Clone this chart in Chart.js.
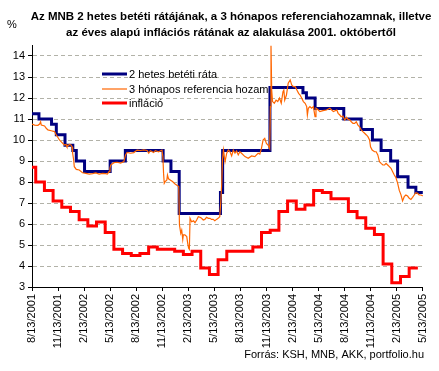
<!DOCTYPE html>
<html>
<head>
<meta charset="utf-8">
<script src="https://cdn.jsdelivr.net/npm/chart.js@4.4.1/dist/chart.umd.min.js"></script>
<style>
  html, body { margin: 0; padding: 0; background: #fff; }
</style>
</head>
<body>
<canvas id="myChart" width="439" height="371"></canvas>
<script>
// x values are months counted from 8/13/2001
const tickLabels = ["8/13/2001", "11/13/2001", "2/13/2002", "5/13/2002", "8/13/2002", "11/13/2002",
  "2/13/2003", "5/13/2003", "8/13/2003", "11/13/2003", "2/13/2004", "5/13/2004",
  "8/13/2004", "11/13/2004", "2/13/2005", "5/13/2005"];

// MNB 2-week deposit rate: month of each change and new rate
const baseRateMonths = [0, 0.8, 2.25, 2.8, 3.8, 4.7, 5.1, 6.05, 9.0, 10.75, 15.1, 16.0, 16.95,
  21.7, 21.95, 27.4, 31.2, 31.6, 32.6, 35.9, 37.9, 39.2, 40.2, 41.3, 42.1, 43.3, 44.2, 45.2, 45.4];
const baseRate = [11.25, 11.0, 10.75, 10.25, 9.75, 9.5, 9.0, 8.5, 9.0, 9.5, 9.0, 8.5, 6.5,
  7.5, 9.5, 12.5, 12.25, 12.0, 11.5, 11.0, 10.5, 10.0, 9.5, 9.0, 8.25, 7.75, 7.5, 7.25, 7.25];

// 3-month reference yield
const refMonths = [0, 0.3, 0.68, 0.88, 0.99, 1.07, 1.45, 1.64, 1.83, 2.21, 2.59, 2.78, 2.97, 3.16, 3.35,
  3.54, 3.73, 3.92, 4.03, 4.3, 4.49, 4.61, 4.68, 4.8, 4.87, 5.1, 5.44, 5.82, 6.2, 6.59, 6.97, 7.35,
  7.73, 8.11, 8.49, 8.68, 8.87, 8.98, 9.06, 9.44, 9.82, 10.2, 10.58, 10.77, 10.96, 11.34, 11.72,
  12.1, 12.49, 12.87, 13.25, 13.44, 13.63, 14.01, 14.2, 14.58, 14.96, 15.07, 15.15, 15.23, 15.34,
  15.53, 15.6, 15.72, 15.91, 16.18, 16.48, 16.9, 16.98, 17.13, 17.24, 17.36, 17.43, 17.6, 17.82,
  17.93, 18.04, 18.12, 18.2, 18.38, 18.6, 18.77, 18.96, 19.15, 19.34, 19.53, 19.72, 19.9, 20.1,
  20.3, 20.5, 20.67, 20.86, 21.05, 21.24, 21.43, 21.62, 21.74, 21.85, 21.93, 22.04, 22.23, 22.42,
  22.61, 22.8, 22.99, 23.18, 23.37, 23.56, 23.75, 23.94, 24.13, 24.52, 24.9, 25.28, 25.66, 25.85,
  26.04, 26.23, 26.42, 26.61, 26.8, 26.99, 27.18, 27.37, 27.45, 27.52, 27.6, 27.7, 27.9, 28.1,
  28.3, 28.5, 28.7, 28.9, 29.0, 29.1, 29.3, 29.5, 29.73, 29.9, 30.1, 30.3, 30.5, 30.7, 30.87,
  31.05, 31.25, 31.45, 31.63, 31.71, 31.82, 32.0, 32.2, 32.4, 32.59, 32.7, 32.97, 33.15, 33.5,
  33.9, 34.3, 34.7, 35.1, 35.25, 35.45, 35.6, 35.8, 36.01, 36.2, 36.4, 36.6, 36.77, 36.96, 37.15,
  37.34, 37.53, 37.72, 37.91, 38.1, 38.3, 38.5, 38.68, 38.87, 38.98, 39.17, 39.44, 39.63, 39.82,
  40.01, 40.2, 40.4, 40.6, 40.77, 40.96, 41.15, 41.34, 41.53, 41.72, 41.91, 42.1, 42.29, 42.48,
  42.67, 42.86, 43.05, 43.25, 43.44, 43.63, 43.82, 44.01, 44.2, 44.39, 44.58, 44.77, 44.96, 45.15];
const refYield = [10.76, 10.71, 10.7, 10.76, 10.87, 10.71, 10.67, 10.56, 10.48, 10.44, 10.4, 10.24, 10.13, 10.0, 9.92,
  9.84, 9.76, 9.79, 9.68, 9.79, 9.76, 9.68, 9.37, 9.05, 8.73, 8.6, 8.57, 8.44, 8.41, 8.38, 8.4, 8.43,
  8.38, 8.41, 8.4, 8.38, 8.49, 8.65, 8.81, 8.92, 8.94, 8.9, 8.97, 9.29, 9.41, 9.37, 9.4,
  9.52, 9.5, 9.53, 9.5, 9.37, 9.49, 9.4, 9.49, 9.44, 9.52, 9.21, 8.41, 7.94, 8.02,
  8.1, 8.33, 8.15, 8.1, 8.02, 7.9, 7.78, 5.95, 5.56, 5.71, 5.27, 5.48, 5.48, 5.4,
  5.08, 4.84, 4.79, 6.27, 6.11, 6.15, 6.06, 6.19, 6.35, 6.32, 6.27, 6.19, 6.22, 6.32,
  6.27, 6.27, 6.22, 6.22, 6.16, 6.22, 6.27, 6.35, 7.06, 7.94, 9.05, 9.52, 8.97, 9.37,
  9.52, 9.44, 9.24, 9.52, 9.37, 9.48, 9.29, 9.44, 9.37, 9.21, 9.13, 9.24, 9.21, 9.29,
  9.37, 9.33, 9.6, 10.0, 10.08, 9.84, 9.76, 9.6, 11.59, 14.5, 12.38, 11.83, 11.75, 11.9,
  11.83, 12.0, 11.75, 12.3, 12.38, 11.9, 12.14, 12.7, 12.86, 12.62, 12.54, 12.54, 12.38, 12.22, 12.14,
  12.0, 11.83, 11.75, 11.59, 11.19, 11.51, 11.59, 11.51, 11.59, 11.11, 11.51, 11.43, 11.35, 11.4,
  11.43, 11.51, 11.35, 11.43, 11.27, 11.19, 11.11, 11.14, 10.95, 11.08, 10.98, 10.95, 10.87, 10.79, 10.79,
  10.87, 10.71, 10.63, 10.48, 10.4, 10.32, 10.24, 10.16, 10.0, 9.68, 9.52, 9.44, 9.44, 9.29,
  8.97, 8.89, 8.81, 8.81, 8.89, 8.81, 8.73, 8.65, 8.49, 8.33, 8.2, 7.95, 7.6, 7.4,
  7.1, 7.3, 7.38, 7.33, 7.22, 7.17, 7.27, 7.38, 7.49, 7.46, 7.38, 7.38, 7.35, 7.35];

// yearly inflation, monthly from Aug 2001 to Apr 2005
const inflation = [8.7, 8.0, 7.6, 7.1, 6.8,
  6.6, 6.2, 5.9, 6.1, 5.6, 4.8, 4.6, 4.5, 4.6, 4.9, 4.8, 4.8,
  4.7, 4.55, 4.7, 3.9, 3.6, 4.3, 4.7, 4.7, 4.7, 4.9, 5.6, 5.7,
  6.6, 7.1, 6.7, 6.9, 7.6, 7.5, 7.2, 7.2, 6.6, 6.3, 5.8, 5.5,
  4.1, 3.2, 3.5, 3.9];
const inflationLag = 0.57; // published figure takes over before the 13th

const titleLines = ["Az MNB 2 hetes betéti rátájának, a 3 hónapos referenciahozamnak, illetve",
  "az éves alapú inflációs rátának az alakulása 2001. októbertől"];
const sourceNote = "Forrás: KSH, MNB, AKK, portfolio.hu";

const FONT = '"Liberation Sans", Arial, sans-serif';

const basePoints = baseRateMonths.map((m, i) => ({ x: m, y: baseRate[i] }));
const refPoints = refMonths.map((m, i) => ({ x: m, y: refYield[i] }));
const inflPoints = inflation.map((v, i) => ({ x: i === 0 ? 0 : i - inflationLag, y: v }));
inflPoints.push({ x: inflation.length - inflationLag, y: inflation[inflation.length - 1] });

const overlay = {
  id: "overlay",
  afterDraw(chart) {
    const { ctx, chartArea } = chart;
    ctx.save();
    ctx.fillStyle = "#000";
    ctx.textBaseline = "middle";
    ctx.textAlign = "center";
    ctx.font = "bold 11.5px " + FONT;
    ctx.fillText(titleLines[0], 231, 16.5);
    ctx.fillText(titleLines[1], 231, 33);

    ctx.font = "11px " + FONT;
    ctx.textAlign = "left";
    ctx.fillText("%", 7, 25);
    ctx.textAlign = "right";
    ctx.fillText(sourceNote, 424, 355);

    // legend inside the plot
    ctx.textAlign = "left";
    const lx = chartArea.left + 70;
    const rows = [28.5, 43.5, 57.5];
    chart.data.datasets.forEach((ds, i) => {
      const y = chartArea.top + rows[i];
      ctx.strokeStyle = ds.borderColor;
      ctx.lineWidth = ds.borderWidth;
      ctx.beginPath();
      ctx.moveTo(lx, y);
      ctx.lineTo(lx + 25, y);
      ctx.stroke();
      ctx.fillText(ds.label, lx + 27, y + 0.5);
    });
    ctx.restore();
  },
};

const ctx = document.getElementById("myChart");
new Chart(ctx, {
  type: "line",
  data: {
    datasets: [
      {
        label: "2 hetes betéti ráta",
        data: basePoints,
        borderColor: "#000080",
        borderWidth: 3,
        stepped: true,
        pointRadius: 0,
        order: 1,
      },
      {
        label: "3 hónapos referencia hozam",
        data: refPoints,
        borderColor: "#ff6600",
        borderWidth: 1.2,
        pointRadius: 0,
        tension: 0,
        order: 0,
      },
      {
        label: "infláció",
        data: inflPoints,
        borderColor: "#ff0000",
        borderWidth: 3,
        stepped: true,
        pointRadius: 0,
        order: 2,
      },
    ],
  },
  options: {
    responsive: false,
    animation: false,
    layout: { padding: { top: 45.5, right: 13, left: 0, bottom: 0 } },
    plugins: {
      legend: { display: false },
      title: { display: false },
      tooltip: { enabled: false },
    },
    scales: {
      x: {
        type: "linear",
        min: 0,
        max: 45,
        afterFit: (scale) => { scale.height = 84; },
        ticks: {
          stepSize: 3,
          autoSkip: false,
          maxRotation: 90,
          minRotation: 90,
          padding: 3,
          color: "#000",
          font: { family: FONT, size: 11 },
          callback: (value, index) => tickLabels[index],
        },
        grid: {
          display: true,
          drawOnChartArea: false,
          drawTicks: true,
          tickLength: 4,
          tickColor: "#000",
        },
        border: { color: "#000", width: 1 },
      },
      y: {
        min: 3,
        max: 14.5,
        afterFit: (scale) => { scale.width = 32; },
        ticks: {
          stepSize: 1,
          includeBounds: false,
          padding: 3,
          color: "#000",
          font: { family: FONT, size: 11 },
        },
        grid: {
          color: (c) => (c.tick && c.tick.value === 3 ? "rgba(0,0,0,0)" : "#b2b2a8"),
          tickColor: "#000",
          tickLength: 4,
        },
        border: { color: "#000", width: 1, dash: [4, 3] },
      },
    },
  },
  plugins: [overlay],
});
</script>
</body>
</html>
